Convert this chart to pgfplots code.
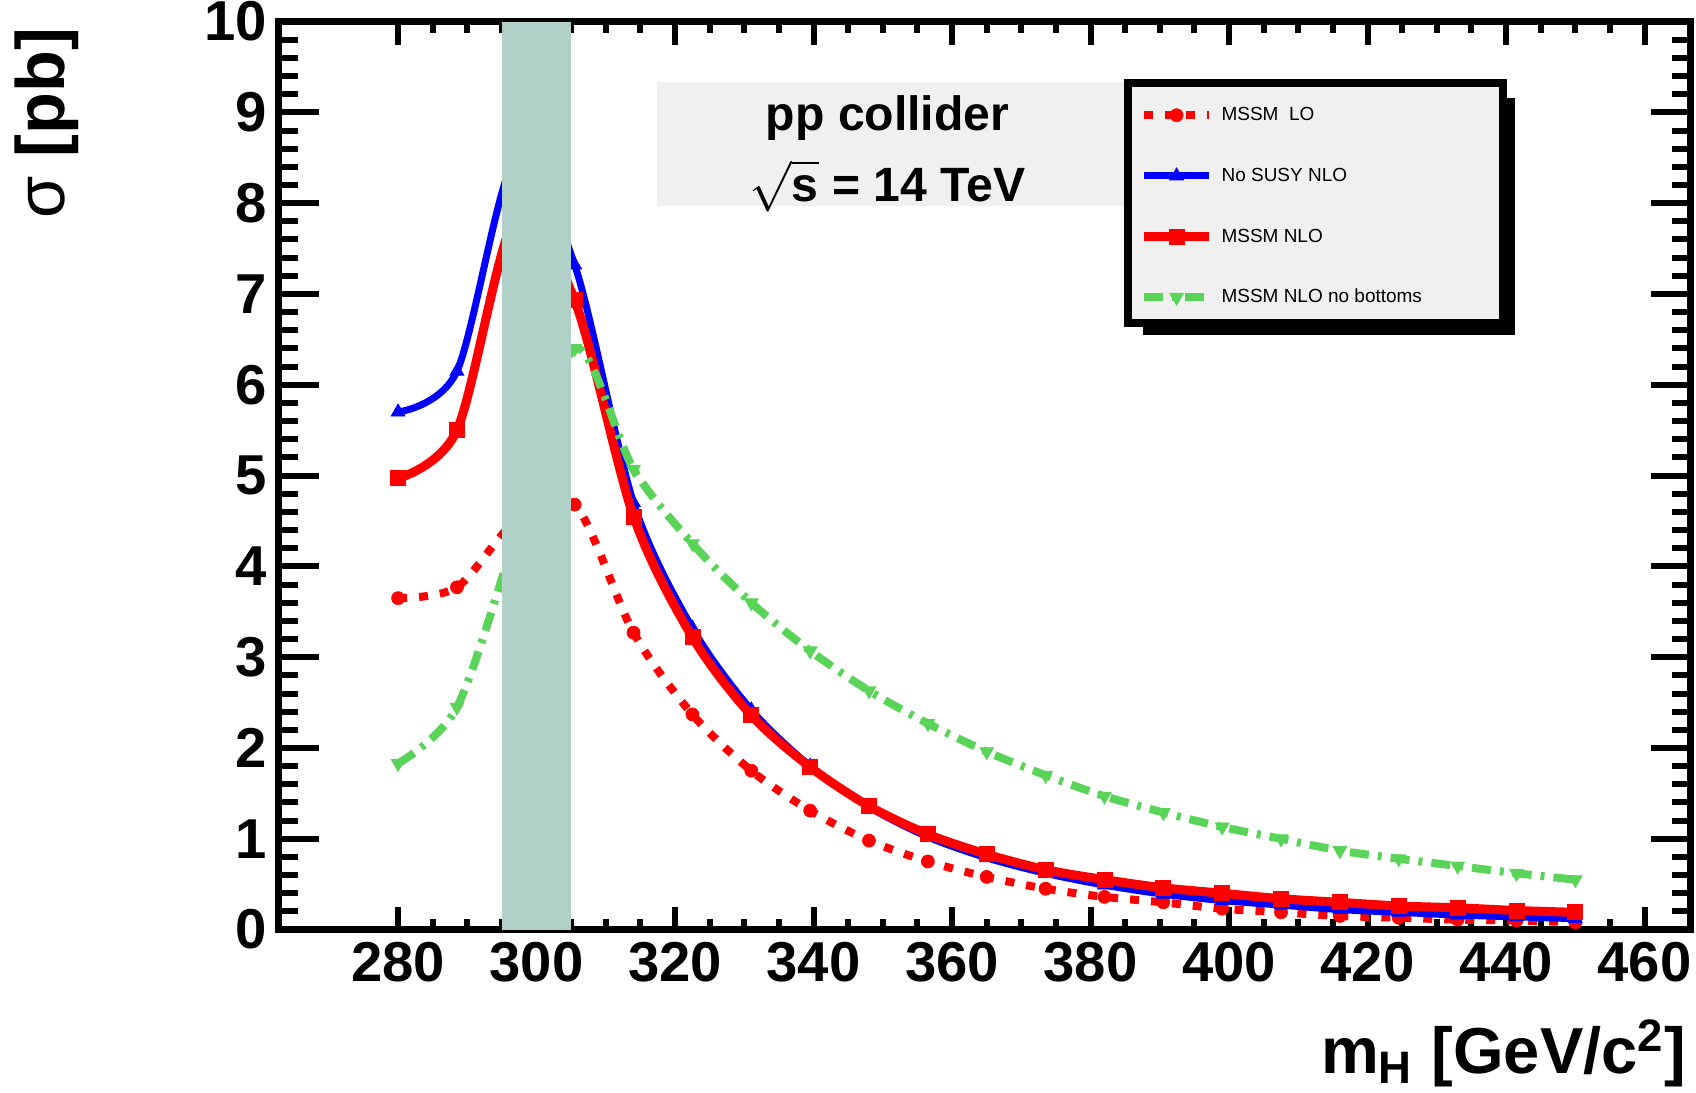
\documentclass[border=0pt]{standalone}
\usepackage{fontspec}
\setmainfont{Liberation Sans}
\usepackage{pgfplots}
\pgfplotsset{compat=1.18}
\usepackage{pgfplotstable}

\definecolor{bandcol}{RGB}{176,208,200}
\definecolor{boxgray}{RGB}{240,240,240}
\definecolor{rootgreen}{RGB}{89,212,89}

% m_H, LO MSSM, no-SUSY NLO, MSSM NLO, MSSM NLO without bottoms
\pgfplotstableread{
mh     lo    nosusy  nlo    nob
280.0  3.65  5.70    4.97   1.83
288.5  3.77  6.15    5.50   2.45
297.0  4.50  8.50    7.85   4.35
305.5  4.68  7.32    6.93   6.40
314.0  3.27  4.70    4.55   5.07
322.5  2.37  3.32    3.22   4.25
331.0  1.75  2.42    2.36   3.60
339.5  1.31  1.80    1.79   3.07
348.0  0.98  1.35    1.36   2.63
356.5  0.75  1.02    1.05   2.27
365.0  0.58  0.79    0.83   1.96
373.5  0.45  0.62    0.66   1.70
382.0  0.36  0.49    0.55   1.47
390.5  0.30  0.39    0.46   1.29
399.0  0.23  0.32    0.40   1.13
407.5  0.19  0.27    0.34   1.00
416.0  0.15  0.22    0.30   0.87
424.5  0.13  0.19    0.26   0.78
433.0  0.11  0.16    0.24   0.70
441.5  0.10  0.14    0.21   0.62
450.0  0.08  0.12    0.19   0.55
}\xsec

\begin{document}
\begin{tikzpicture}
\useasboundingbox (-2.79,-1.63) rectangle (14.17,9.296);
\begin{axis}[
    scale only axis,
    width=14.12cm, height=9.08cm,
    xmin=262.8, xmax=466.7, ymin=0, ymax=10,
    xtick={280,300,...,460}, ytick={0,1,...,10},
    minor x tick num=3, minor y tick num=4,
    clip mode=individual,
    axis line style={line width=0.07cm},
    tick style={black, line width=0.06cm},
    major tick length=0.3cm, minor tick length=0.14cm,
    xtick style={/pgfplots/major tick length=0.23cm,/pgfplots/minor tick length=0.11cm},
    ytick style={/pgfplots/major tick length=0.4cm,/pgfplots/minor tick length=0.19cm},
    tick label style={font=\fontsize{16}{18}\selectfont\bfseries},
    /pgf/number format/assume math mode=true,
    label style={font=\fontsize{19.5}{22}\selectfont\bfseries, inner sep=0pt},
    xlabel={m\textsubscript{H} [GeV/c\textsuperscript{2}]},
    ylabel={{\mdseries σ} [pb]},
    xlabel style={at={(axis description cs:0.9972,-0.1586)}, anchor=base east,
        font=\fontsize{18.5}{22}\selectfont\bfseries},
    ylabel style={at={(axis description cs:-0.1643,0.994)}, anchor=east},
    legend image code/.code={\draw[mark repeat=2,mark phase=2] plot coordinates {(0cm,0cm) (0.325cm,0cm) (0.65cm,0cm)};},
    legend style={
        at={(rel axis cs:0.609,0.7966)}, anchor=west,
        draw=none, fill=none, inner sep=0pt,
        font=\fontsize{5.4}{6.5}\selectfont,
        row sep=0.417cm,
        nodes={inner sep=0pt, text height=0.15cm, text depth=0.04cm, anchor=west},
        /tikz/every odd column/.append style={column sep=0.08cm},
    },
]

% text box
\fill[boxgray] (rel axis cs:0.268,0.797) rectangle (rel axis cs:0.60,0.933);
\node[font=\fontsize{13.7}{20.2}\selectfont\bfseries, align=center, anchor=north, inner sep=0pt]
    at (rel axis cs:0.431,0.9192) {pp collider\\$\sqrt{\mbox{s}}$ = 14 TeV};

% legend frame with shadow
\fill[black] (rel axis cs:0.6119,0.9163) rectangle (rel axis cs:0.8754,0.6553);
\draw[line width=0.08cm, fill=boxgray] (rel axis cs:0.6013,0.9328) rectangle (rel axis cs:0.8669,0.6685);

\addplot[red, line width=0.08cm, dash pattern=on 0.09cm off 0.12cm, smooth,
    mark=*, mark size=0.065cm, mark options={solid, line width=0.2pt}]
    table[x=mh, y=lo] {\xsec};
\addlegendentry{MSSM\ \ LO}

\addplot[blue, line width=0.07cm, smooth,
    mark=triangle*, mark size=0.08cm, mark options={solid, line width=0.2pt}]
    table[x=mh, y=nosusy] {\xsec};
\addlegendentry{No SUSY NLO}

\addplot[red, line width=0.09cm, smooth,
    mark=square*, mark size=0.075cm, mark options={solid, line width=0.2pt}]
    table[x=mh, y=nlo] {\xsec};
\addlegendentry{MSSM NLO}

\addplot[rootgreen, line width=0.08cm, smooth,
    dash pattern=on 0.19cm off 0.09cm on 0.04cm off 0.09cm,
    mark=triangle*, mark size=0.08cm, mark options={solid, rotate=180, line width=0.2pt}]
    table[x=mh, y=nob] {\xsec};
\addlegendentry{MSSM NLO no bottoms}

\fill[bandcol] (axis cs:295,0) rectangle (axis cs:305,10);

\end{axis}
\end{tikzpicture}
\end{document}
